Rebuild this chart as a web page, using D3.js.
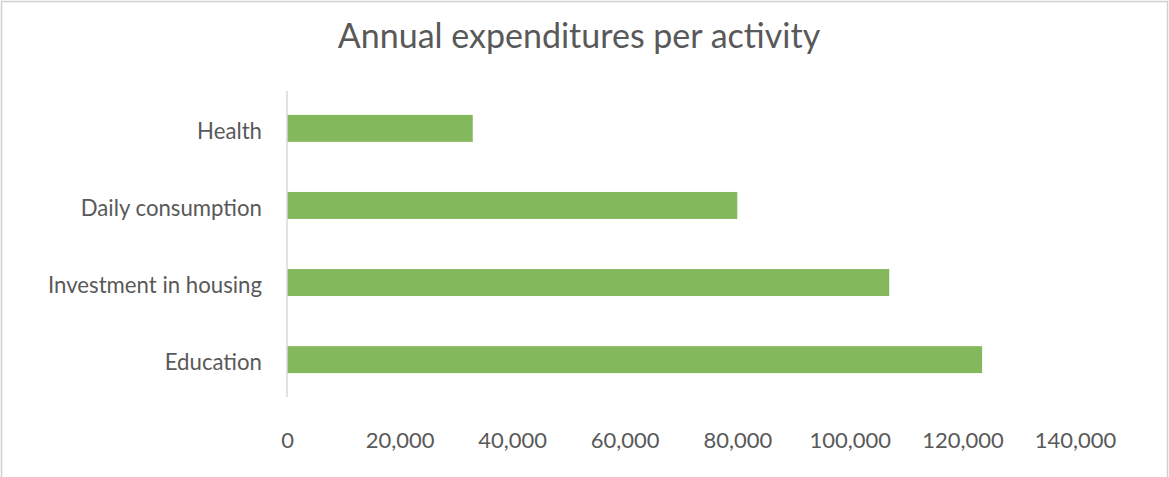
<!DOCTYPE html>
<html>
<head>
<meta charset="utf-8">
<script src="https://cdn.jsdelivr.net/npm/d3@7"></script>
<style>
  html, body { margin: 0; padding: 0; background: #fff; }
  svg { display: block; }
  text { font-family: Lato, "Open Sans", sans-serif; fill: #595959; }
</style>
</head>
<body>
<svg id="chart" width="1169" height="477"></svg>
<script>
// Expenditure categories, top to bottom
const categories = ["Health", "Daily consumption", "Investment in housing", "Education"];
// Annual amount spent on each category
const amounts = [33000, 80000, 107000, 123500];
// Value axis ticks
const tickValues = [0, 20000, 40000, 60000, 80000, 100000, 120000, 140000];
const title = "Annual expenditures per activity";

const W = 1169, H = 477;
const svg = d3.select("#chart");

// chart frame
svg.append("rect")
  .attr("x", 1.5).attr("y", 1.5)
  .attr("width", W - 3).attr("height", H + 10)
  .attr("fill", "#fff")
  .attr("stroke", "#d0d0d0")
  .attr("stroke-width", 1.5);

const plot = { left: 287, right: 1075, top: 91, bottom: 397 };

const x = d3.scaleLinear()
  .domain([0, 140000])
  .range([plot.left, plot.right]);

const y = d3.scaleBand()
  .domain(categories)
  .range([plot.top, plot.bottom])
  .paddingInner(0.65)
  .paddingOuter(0.31);

// title
svg.append("text")
  .attr("x", 579)
  .attr("y", 48)
  .attr("text-anchor", "middle")
  .style("font-size", "34px")
  .text(title);

// bars
svg.append("g")
  .selectAll("rect")
  .data(categories.map((c, i) => ({ c, v: amounts[i] })))
  .join("rect")
  .attr("x", x(0))
  .attr("y", d => y(d.c))
  .attr("width", d => x(d.v) - x(0))
  .attr("height", y.bandwidth())
  .attr("fill", "#83b85c");

// category axis
const yAxis = svg.append("g")
  .attr("transform", `translate(${plot.left},0)`)
  .call(d3.axisLeft(y).tickSize(0).tickPadding(25));
yAxis.select(".domain").remove();
yAxis.selectAll("text")
  .style("font-size", "22.2px")
  .attr("dy", "0.47em")
  .attr("fill", "#595959");

// vertical baseline at zero
svg.append("line")
  .attr("x1", x(0)).attr("x2", x(0))
  .attr("y1", plot.top).attr("y2", plot.bottom)
  .attr("stroke", "#d9d9d9")
  .attr("stroke-width", 1.5);

// value axis labels
const xAxis = svg.append("g")
  .attr("transform", `translate(0,${plot.bottom})`)
  .call(d3.axisBottom(x)
    .tickValues(tickValues)
    .tickSize(0)
    .tickPadding(35)
    .tickFormat(d3.format(",")));
xAxis.select(".domain").remove();
xAxis.selectAll("text").style("font-size", "22px").attr("fill", "#595959");
</script>
</body>
</html>
